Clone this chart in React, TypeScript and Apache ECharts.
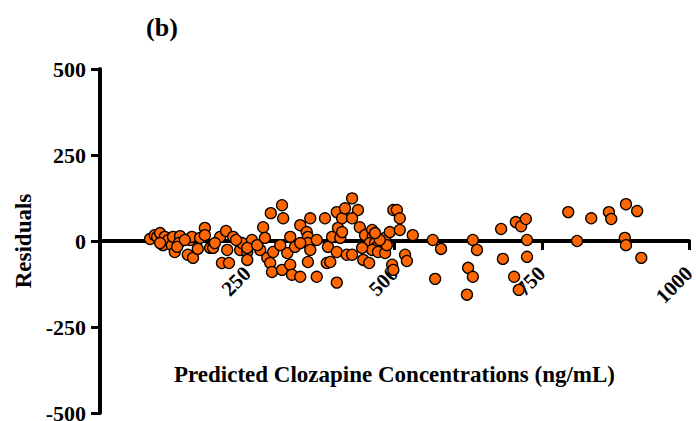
import React, { useEffect, useRef } from "react";
import * as echarts from "echarts";

// Predicted clozapine concentrations (ng/mL) and residuals, grouped by x range
const predictedA = [85, 93, 97, 102, 110, 107, 116, 122, 124, 127, 136, 134, 131, 149, 158, 153, 156, 166, 170, 178, 178, 187, 192, 204, 214, 216, 207, 219, 226, 238, 241, 250, 250, 258, 250, 102, 144, 195, 231];
const residualsA = [6, 17, 12, 23, 12, -12, 3, -12, 12, -32, 14, -6, -17, -40, -49, 3, 12, -23, 9, 38, 17, -20, -20, 12, 29, -26, -64, -64, 12, -26, -6, -32, -55, 3, -20, -6, 3, -6, 3];

const predictedB = [272, 277, 284, 289, 292, 290, 294, 309, 311, 309, 318, 323, 323, 326, 331, 340, 340, 351, 353, 353, 357, 353, 357, 368, 382, 385, 391, 387, 394, 402, 404, 402, 402, 408, 411, 416, 419, 428, 267, 280, 306, 340, 368];
const residualsB = [-26, 40, -49, -64, -90, 81, -32, 104, 66, -84, -35, 12, -69, -98, -17, 46, -104, 26, 12, -61, 66, -6, -26, -104, 66, -64, -61, -17, 12, 84, 38, -32, -121, 9, 66, 95, -40, 124, -12, 9, -12, -6, 3];

const predictedC = [438, 428, 411, 441, 428, 450, 447, 457, 462, 463, 458, 467, 470, 462, 472, 484, 484, 492, 487, 498, 504, 509, 509, 496, 498, 531, 518, 521, 445, 475, 467];
const residualsC = [90, 66, 26, 40, -40, 17, -55, -64, 32, 12, -6, -6, -17, -26, -32, 9, -35, 26, -12, 90, 90, 66, 32, -69, -84, 17, -40, -58, -20, 3, 23];

const predictedD = [565, 579, 569, 633, 640, 625, 633, 623, 681, 684, 706, 715, 723, 725, 725, 703, 711, 795, 810, 834, 864, 868, 893, 912, 891, 893, 919];
const residualsD = [3, -23, -110, 3, -26, -78, -104, -156, 35, -52, 55, 43, 64, 3, -46, -104, -142, 84, 0, 66, 84, 64, 107, 87, 9, -12, -49];

const predicted = [...predictedA, ...predictedB, ...predictedC, ...predictedD];
const residuals = [...residualsA, ...residualsB, ...residualsC, ...residualsD];

const xTickLabels = ["", "250", "500", "750", "1000"];
const yTickLabels = ["-500", "-250", "0", "250", "500"];

const FONT = "Liberation Serif";

export default function App() {
  const ref = useRef<HTMLDivElement>(null);

  useEffect(() => {
    if (!ref.current) return;
    const chart = echarts.init(ref.current, null, { renderer: "svg" });
    const data = predicted.map((x, i) => [x, residuals[i]]);
    const gridTop = 69;
    const gridBottom = 8;
    const plotH = 421 - gridTop - gridBottom;
    chart.setOption({
      animation: false,
      backgroundColor: "#ffffff",
      graphic: [
        {
          type: "text",
          x: 162,
          y: 27,
          style: {
            text: "(b)",
            font: `bold 26px ${FONT}`,
            fill: "#000",
            align: "center",
            verticalAlign: "middle",
          },
        },
      ],
      grid: {
        left: 100,
        right: 7,
        top: gridTop,
        bottom: gridBottom,
        containLabel: false,
        outerBoundsMode: "none",
      },
      xAxis: {
        type: "value",
        position: "bottom",
        offset: -plotH / 2,
        min: 0,
        max: 1000,
        interval: 250,
        name: "Predicted Clozapine Concentrations (ng/mL)",
        nameLocation: "middle",
        nameGap: 122,
        nameTextStyle: { fontFamily: FONT, fontWeight: "bold", fontSize: 23, color: "#000" },
        axisLine: { onZero: false, lineStyle: { color: "#000", width: 4 } },
        axisTick: { show: true, inside: false, length: 9, lineStyle: { color: "#000", width: 3 } },
        axisLabel: {
          rotate: 45,
          margin: 29,
          fontFamily: FONT,
          fontWeight: "bold",
          fontSize: 21,
          color: "#000",
          formatter: (v: number) => xTickLabels[Math.round(v / 250)] ?? "",
        },
        splitLine: { show: false },
      },
      yAxis: {
        type: "value",
        min: -500,
        max: 500,
        interval: 250,
        name: "Residuals",
        nameLocation: "middle",
        nameGap: 64,
        nameRotate: 90,
        nameTextStyle: { fontFamily: FONT, fontWeight: "bold", fontSize: 23, color: "#000" },
        axisLine: { lineStyle: { color: "#000", width: 4 } },
        axisTick: { show: true, inside: false, length: 9, lineStyle: { color: "#000", width: 3 } },
        axisLabel: {
          margin: 14,
          fontFamily: FONT,
          fontWeight: "bold",
          fontSize: 22,
          color: "#000",
          formatter: (v: number) => yTickLabels[Math.round((v + 500) / 250)] ?? "",
        },
        splitLine: { show: false },
      },
      series: [
        {
          type: "scatter",
          data,
          symbol: "circle",
          symbolSize: 11,
          itemStyle: { color: "#FF6600", borderColor: "#000", borderWidth: 1.3, opacity: 1 },
          z: 3,
        },
      ],
    });
    return () => chart.dispose();
  }, []);

  return (
    <div
      ref={ref}
      style={{ position: "fixed", left: 0, top: 0, width: 696, height: 421 }}
    />
  );
}
